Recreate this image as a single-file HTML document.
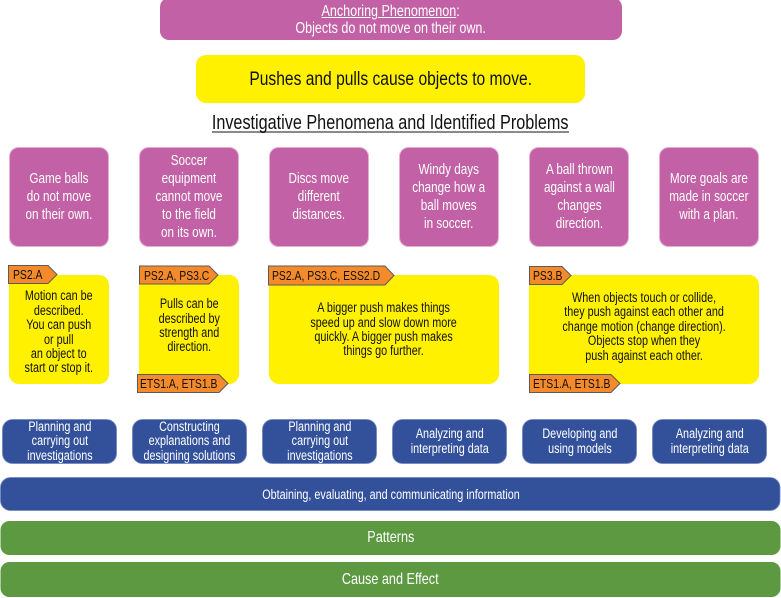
<!DOCTYPE html>
<html><head><meta charset="utf-8"><style>
body{margin:0;width:781px;height:598px;position:relative;background:#fff;font-family:"Liberation Sans",sans-serif;overflow:hidden}
svg{position:absolute;left:0;top:0}
.b{position:absolute;display:flex;align-items:center;justify-content:center;text-align:center}
.c{transform:scaleX(.8);white-space:nowrap}
.pk{font-size:15px;line-height:18px;color:#fff;transform:scaleX(.78)}
.yl{font-size:13.5px;line-height:14.4px;color:#111}
.bl{font-size:13.5px;line-height:14.5px;color:#fff}
.tg{position:absolute;font-size:13px;white-space:nowrap;transform:scaleX(.8);transform-origin:0 50%;color:#111;line-height:19px}
</style></head><body>
<svg width="781" height="598">
 <rect x="160" y="-2" width="462" height="42" rx="9" fill="#c261a5"/>
 <rect x="196" y="55" width="389" height="48" rx="10" fill="#fff100"/>
 <rect x="212" y="131" width="357" height="2" fill="#8a8a8a"/>
 <g fill="#c261a5" stroke="#e3b0d2" stroke-width="1">
  <rect x="9.5" y="147.5" width="99" height="99" rx="9"/>
  <rect x="139.5" y="147.5" width="99" height="99" rx="9"/>
  <rect x="269.5" y="147.5" width="99" height="99" rx="9"/>
  <rect x="399.5" y="147.5" width="99" height="99" rx="9"/>
  <rect x="529.5" y="147.5" width="99" height="99" rx="9"/>
  <rect x="659.5" y="147.5" width="99" height="99" rx="9"/>
 </g>
 <g fill="#fff100">
  <rect x="9" y="275" width="100" height="109" rx="10"/>
  <rect x="139" y="275" width="100" height="109" rx="10"/>
  <rect x="269" y="275" width="230" height="109" rx="10"/>
  <rect x="529" y="275" width="230" height="109" rx="10"/>
 </g>
 <g fill="#f58a2b" stroke="#5a5a5a" stroke-width="1">
  <polygon points="8.5,265.5 48,265.5 57,274.5 48,283.5 8.5,283.5"/>
  <polygon points="139.5,266 209,266 218,275 209,284 139.5,284"/>
  <polygon points="268.5,266 385,266 394,275.5 385,285 268.5,285"/>
  <polygon points="529.5,266.5 562,266.5 571,275.5 562,284.5 529.5,284.5"/>
  <polygon points="137.5,374.5 219,374.5 228,383.5 219,392.5 137.5,392.5"/>
  <polygon points="529.5,374.5 611,374.5 620,383.5 611,392.5 529.5,392.5"/>
 </g>
 <g fill="#33519b" stroke="#6f86bd" stroke-width="0.8">
  <rect x="2.5" y="419.5" width="114" height="44" rx="10"/>
  <rect x="132.5" y="419.5" width="114" height="44" rx="10"/>
  <rect x="262.5" y="419.5" width="114" height="44" rx="10"/>
  <rect x="392.5" y="419.5" width="114" height="44" rx="10"/>
  <rect x="522.5" y="419.5" width="114" height="44" rx="10"/>
  <rect x="652.5" y="419.5" width="114" height="44" rx="10"/>
  <rect x="0.5" y="477.5" width="779.5" height="33" rx="10"/>
 </g>
 <g fill="#5c9941">
  <rect x="0.5" y="521" width="780" height="34" rx="9"/>
  <rect x="0.5" y="562" width="780" height="35" rx="9"/>
 </g>
</svg>

<div class="b" style="left:160px;top:1px;width:462px;height:38px"><div class="c" style="font-size:15.5px;line-height:17px;color:#fff;transform:scaleX(.81)"><span style="text-decoration:underline">Anchoring Phenomenon</span>:<br>Objects do not move on their own.</div></div>
<div class="b" style="left:196px;top:55px;width:389px;height:48px"><div class="c" style="font-size:19.5px;color:#111">Pushes and pulls cause objects to move.</div></div>
<div class="b" style="left:140px;top:111px;width:500px;height:24px"><div class="c" style="font-size:20px;color:#111;line-height:22px;transform:scaleX(.81)">Investigative Phenomena and Identified Problems</div></div>

<div class="b" style="left:9px;top:147px;width:100px;height:100px"><div class="c pk">Game balls<br>do not move<br>on their own.</div></div>
<div class="b" style="left:139px;top:147px;width:100px;height:100px"><div class="c pk">Soccer<br>equipment<br>cannot move<br>to the field<br>on its own.</div></div>
<div class="b" style="left:269px;top:147px;width:100px;height:100px"><div class="c pk">Discs move<br>different<br>distances.</div></div>
<div class="b" style="left:399px;top:147px;width:100px;height:100px"><div class="c pk">Windy days<br>change how a<br>ball moves<br>in soccer.</div></div>
<div class="b" style="left:529px;top:147px;width:100px;height:100px"><div class="c pk">A ball thrown<br>against a wall<br>changes<br>direction.</div></div>
<div class="b" style="left:659px;top:147px;width:100px;height:100px"><div class="c pk">More goals are<br>made in soccer<br>with a plan.</div></div>

<div class="b" style="left:9px;top:286px;width:100px;height:93px"><div class="c yl">Motion can be<br>described.<br>You can push<br>or pull<br>an object to<br>start or stop it.</div></div>
<div class="b" style="left:139px;top:284px;width:100px;height:84px"><div class="c yl">Pulls can be<br>described by<br>strength and<br>direction.</div></div>
<div class="b" style="left:269px;top:288px;width:230px;height:84px"><div class="c yl">A bigger push makes things<br>speed up and slow down more<br>quickly. A bigger push makes<br>things go further.</div></div>
<div class="b" style="left:529px;top:284px;width:230px;height:86px"><div class="c yl">When objects touch or collide,<br>they push against each other and<br>change motion (change direction).<br>Objects stop when they<br>push against each other.</div></div>

<div class="tg" style="left:13px;top:265px">PS2.A</div>
<div class="tg" style="left:144px;top:266px">PS2.A, PS3.C</div>
<div class="tg" style="left:272px;top:266px">PS2.A, PS3.C, ESS2.D</div>
<div class="tg" style="left:533px;top:266px">PS3.B</div>
<div class="tg" style="left:140px;top:374px">ETS1.A, ETS1.B</div>
<div class="tg" style="left:533px;top:374px">ETS1.A, ETS1.B</div>

<div class="b" style="left:2px;top:419px;width:115px;height:45px"><div class="c bl">Planning and<br>carrying out<br>investigations</div></div>
<div class="b" style="left:132px;top:419px;width:115px;height:45px"><div class="c bl">Constructing<br>explanations and<br>designing solutions</div></div>
<div class="b" style="left:262px;top:419px;width:115px;height:45px"><div class="c bl">Planning and<br>carrying out<br>investigations</div></div>
<div class="b" style="left:392px;top:419px;width:115px;height:45px"><div class="c bl">Analyzing and<br>interpreting data</div></div>
<div class="b" style="left:522px;top:419px;width:115px;height:45px"><div class="c bl">Developing and<br>using models</div></div>
<div class="b" style="left:652px;top:419px;width:115px;height:45px"><div class="c bl">Analyzing and<br>interpreting data</div></div>

<div class="b" style="left:0;top:477px;width:781px;height:34px"><div class="c" style="font-size:13.5px;color:#fff">Obtaining, evaluating, and communicating information</div></div>
<div class="b" style="left:0;top:521px;width:781px;height:34px"><div class="c" style="font-size:16px;color:#fff;transform:scaleX(.79)">Patterns</div></div>
<div class="b" style="left:0;top:562px;width:781px;height:35px"><div class="c" style="font-size:16px;color:#fff;transform:scaleX(.79)">Cause and Effect</div></div>
</body></html>
